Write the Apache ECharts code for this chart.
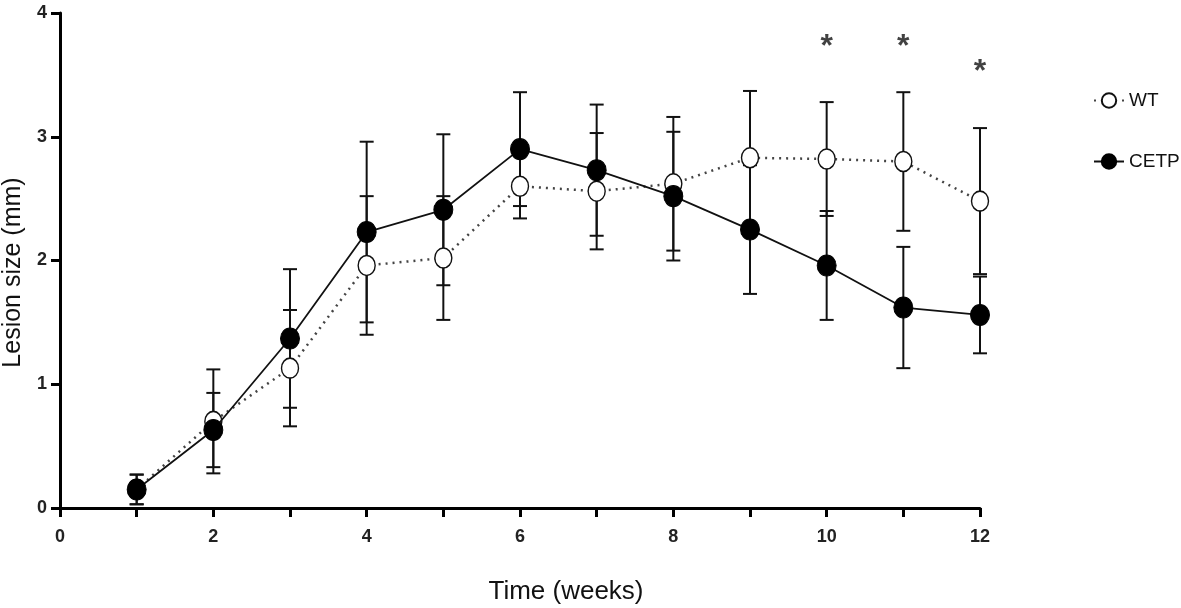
<!DOCTYPE html>
<html>
<head>
<meta charset="utf-8">
<script src="https://cdn.jsdelivr.net/npm/echarts@6/dist/echarts.min.js"></script>
<style>
  html, body { margin: 0; padding: 0; background: #fff; }
  #main { width: 1181px; height: 608px; }
</style>
</head>
<body>
<div id="main"></div>
<script>
// data
const weeks = [1, 2, 3, 4, 5, 6, 7, 8, 9, 10, 11, 12];
const wt = [0.15, 0.70, 1.13, 1.96, 2.02, 2.60, 2.56, 2.62, 2.83, 2.82, 2.80, 2.48];
const wtErr = [0.12, 0.42, 0.47, 0.56, 0.50, 0.26, 0.47, 0.54, 0.54, 0.46, 0.56, 0.59];
const cetp = [0.15, 0.63, 1.37, 2.23, 2.41, 2.90, 2.73, 2.52, 2.25, 1.96, 1.62, 1.56];
const cetpErr = [0.12, 0.30, 0.56, 0.73, 0.61, 0.46, 0.53, 0.52, 0.52, 0.44, 0.49, 0.31];
const sigWeeks = [10, 11, 12];
const sigY = [3.72, 3.72, 3.52];

let myChart = echarts.init(document.getElementById('main'));

const font = 'Liberation Sans, Arial, sans-serif';
const tickFont = 'Liberation Sans Narrow, Liberation Sans, Arial, sans-serif';

function errData(vals, errs) {
    return weeks.map((w, i) => [w, vals[i] - errs[i], vals[i] + errs[i]]);
}

function renderErr(params, api) {
    const x = api.value(0);
    const lo = api.coord([x, api.value(1)]);
    const hi = api.coord([x, api.value(2)]);
    const cap = 7;
    const style = { stroke: '#111', lineWidth: 2 };
    return {
        type: 'group',
        children: [
            { type: 'line', shape: { x1: lo[0], y1: lo[1], x2: hi[0], y2: hi[1] }, style: style },
            { type: 'line', shape: { x1: hi[0] - cap, y1: hi[1], x2: hi[0] + cap, y2: hi[1] }, style: style },
            { type: 'line', shape: { x1: lo[0] - cap, y1: lo[1], x2: lo[0] + cap, y2: lo[1] }, style: style }
        ]
    };
}

option = {
    backgroundColor: '#fff',
    animation: false,
    grid: {
        left: 60,
        right: 201,
        top: 13,
        bottom: 100,
        outerBoundsMode: 'none',
        containLabel: false
    },
    legend: {
        orient: 'vertical',
        left: 1088,
        top: 86,
        itemGap: 42,
        itemWidth: 30,
        itemHeight: 18,
        textStyle: { fontFamily: font, fontSize: 19, color: '#111' },
        data: ['WT', 'CETP']
    },
    xAxis: {
        type: 'value',
        min: 0,
        max: 12,
        interval: 1,
        name: 'Time (weeks)',
        nameLocation: 'middle',
        nameGap: 71,
        nameTextStyle: { fontFamily: font, fontSize: 26, color: '#111', padding: [0, 0, 0, 92] },
        axisLine: { lineStyle: { color: '#000', width: 3 } },
        axisTick: { length: 9, lineStyle: { color: '#000', width: 3 } },
        axisLabel: {
            margin: 20,
            fontFamily: tickFont,
            fontSize: 18,
            fontWeight: 'bold',
            color: '#222',
            formatter: v => (v % 2 === 0 ? String(v) : '')
        },
        splitLine: { show: false }
    },
    yAxis: {
        type: 'value',
        min: 0,
        max: 4,
        interval: 1,
        name: 'Lesion size (mm)',
        nameLocation: 'middle',
        nameRotate: 90,
        nameGap: 31,
        nameTextStyle: { fontFamily: font, fontSize: 25, color: '#111', padding: [0, 24, 0, 0] },
        axisLine: { show: true, lineStyle: { color: '#000', width: 3 } },
        axisTick: { show: true, length: 9, lineStyle: { color: '#000', width: 3 } },
        axisLabel: {
            margin: 13,
            fontFamily: tickFont,
            fontSize: 18,
            fontWeight: 'bold',
            color: '#222'
        },
        splitLine: { show: false }
    },
    series: [
        {
            name: 'WT err',
            type: 'custom',
            renderItem: renderErr,
            data: errData(wt, wtErr),
            z: 1
        },
        {
            name: 'CETP err',
            type: 'custom',
            renderItem: renderErr,
            data: errData(cetp, cetpErr),
            z: 1
        },
        {
            name: 'WT',
            type: 'line',
            data: weeks.map((w, i) => [w, wt[i]]),
            symbol: 'circle',
            symbolSize: [17, 20],
            showAllSymbol: true,
            lineStyle: { color: '#444', width: 2.5, type: [2, 5] },
            itemStyle: { color: '#fff', borderColor: '#111', borderWidth: 1.5 },
            z: 3
        },
        {
            name: 'CETP',
            type: 'line',
            data: weeks.map((w, i) => [w, cetp[i]]),
            symbol: 'circle',
            symbolSize: [19, 21],
            showAllSymbol: true,
            lineStyle: { color: '#111', width: 1.8 },
            itemStyle: { color: '#000', borderColor: '#000', borderWidth: 1 },
            z: 4
        },
        {
            name: 'sig',
            type: 'scatter',
            symbol: 'circle',
            symbolSize: 2,
            itemStyle: { color: 'rgba(0,0,0,0)' },
            data: sigWeeks.map((w, i) => [w, sigY[i]]),
            label: {
                show: true,
                position: 'inside',
                formatter: '*',
                fontFamily: font,
                fontSize: 32,
                fontWeight: 'bold',
                color: '#111'
            },
            z: 5
        }
    ]
};

myChart.setOption(option);
</script>
</body>
</html>
